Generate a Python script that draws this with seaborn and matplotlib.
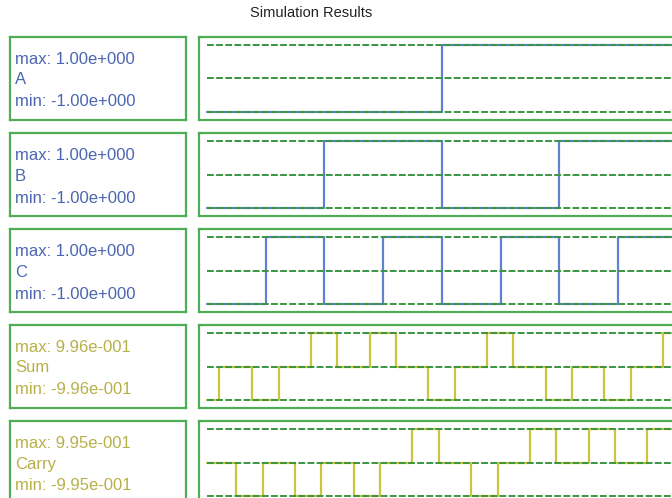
import matplotlib
matplotlib.use("Agg")
import matplotlib.pyplot as plt
import seaborn as sns
import pandas as pd

# ---------------- data ----------------
title = "Simulation Results"
names = ["A", "B", "C", "Sum", "Carry"]
max_vals = [1.0, 1.0, 1.0, 0.996, 0.995]
min_vals = [-1.0, -1.0, -1.0, -0.996, -0.995]
max_labels = ["max: 1.00e+000", "max: 1.00e+000", "max: 1.00e+000",
              "max: 9.96e-001", "max: 9.95e-001"]
min_labels = ["min: -1.00e+000", "min: -1.00e+000", "min: -1.00e+000",
              "min: -9.96e-001", "min: -9.95e-001"]

# step signals: switching times (clock units) and level after each switch
a_t = [0, 4, 8.3]
a_v = [-1, 1, 1]
b_t = [0, 2, 4, 6, 8.3]
b_v = [-1, 1, -1, 1, 1]
c_t = [0, 1, 2, 3, 4, 5, 6, 7, 8.3]
c_v = [-1, 1, -1, 1, -1, 1, -1, 1, 1]
sum_t = [0, 0.2, 0.77, 1.22, 1.77, 2.22, 2.77, 3.22, 3.77, 4.22,
         4.77, 5.22, 5.77, 6.22, 6.77, 7.22, 7.77, 8.22, 8.3]
sum_v = [-0.996, 0, -0.996, 0, 0.996, 0, 0.996, 0, -0.996, 0,
         0.996, 0, -0.996, 0, -0.996, 0, 0.996, 0, 0]
carry_t = [0, 0.5, 0.95, 1.5, 1.95, 2.5, 2.95, 3.5, 3.95, 4.5,
           4.95, 5.5, 5.95, 6.5, 6.95, 7.5, 7.95, 8.3]
carry_v = [0, -0.995, 0, -0.995, 0, -0.995, 0, 0.995, 0, -0.995,
           0, 0.995, 0, 0.995, 0, 0.995, 0, 0]

signals_t = [a_t, b_t, c_t, sum_t, carry_t]
signals_v = [a_v, b_v, c_v, sum_v, carry_v]

# ---------------- style ----------------
sns.set_style("white")
plt.rcParams["font.family"] = ["Liberation Sans", "DejaVu Sans"]

W, H = 672, 498
fig = plt.figure(figsize=(W / 100, H / 100), dpi=100)
fig.patch.set_facecolor("white")

box_green = "#4fae55"
dash_green = "#3a9440"
blue_line = "#6080d0"
blue_text = "#4a66b0"
yellow_line = "#cbc43c"
yellow_text = "#b8b048"

row_tops = [37, 133, 229, 325, 421]
box_h = 83
left_x0, left_x1 = 10, 186
right_x0 = 199
t_px = 58.7  # pixels per clock unit
t0_px = 207
xlim_left = -(t0_px - right_x0) / t_px
xlim_right = 8.14
right_w = (xlim_right - xlim_left) * t_px


def add_ax(x, y, w, h):
    return fig.add_axes([x / W, 1 - (y + h) / H, w / W, h / H])


fig.text(311 / W, 1 - 13 / H, title, ha="center", va="center",
         fontsize=10.5, color="#222222")

for i, name in enumerate(names):
    top = row_tops[i]
    is_out = i >= 3
    lc = yellow_line if is_out else blue_line
    tc = yellow_text if is_out else blue_text

    # label box
    lax = add_ax(left_x0, top, left_x1 - left_x0, box_h)
    lax.set_xlim(0, left_x1 - left_x0)
    lax.set_ylim(box_h, 0)
    lax.set_xticks([])
    lax.set_yticks([])
    for s in lax.spines.values():
        s.set_color(box_green)
        s.set_linewidth(1.6)
    lax.text(5, 22, max_labels[i], color=tc, fontsize=12, va="center", ha="left")
    lax.text(5, 43, name, color=tc, fontsize=12, va="center", ha="left")
    lax.text(5, 65, min_labels[i], color=tc, fontsize=12, va="center", ha="left")

    # signal box
    ax = add_ax(right_x0, top, right_w, box_h)
    df = pd.DataFrame({"t": signals_t[i], "v": signals_v[i]})
    sns.lineplot(data=df, x="t", y="v", ax=ax, drawstyle="steps-post",
                 color=lc, linewidth=1.6, estimator=None, zorder=2)
    mx, mn = max_vals[i], min_vals[i]
    pad = (mx - mn) / 2 * (8 / 33.5)
    ax.set_xlim(xlim_left, xlim_right)
    ax.set_ylim(mn - pad, mx + pad)
    for yv in (mx, 0.0, mn):
        ax.hlines(yv, 0, 8.3, colors=dash_green, linewidth=1.4,
                  linestyles=(0, (3.5, 1.2)), zorder=3)
    ax.set_xticks([])
    ax.set_yticks([])
    ax.set_xlabel("")
    ax.set_ylabel("")
    for s in ax.spines.values():
        s.set_color(box_green)
        s.set_linewidth(1.6)

fig.savefig("out.png", dpi=100)
